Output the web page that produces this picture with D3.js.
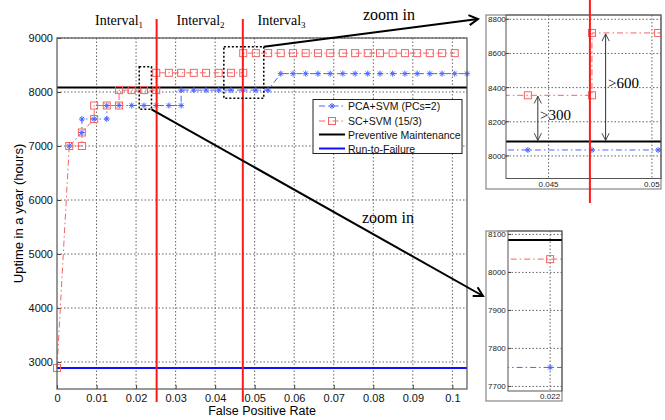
<!DOCTYPE html>
<html lang="en">
<head>
<meta charset="UTF-8">
<title>Uptime vs False Positive Rate</title>
<script src="https://d3js.org/d3.v7.min.js"></script>
<style>
    body { margin: 0; background: #fff; }
    svg { display: block; font-family: Arial, "Liberation Sans", sans-serif; }
    .grid line { stroke: #666; stroke-width: 1; stroke-dasharray: 1.5, 2; }
    .serif { font-family: "Times New Roman", "Liberation Serif", serif; }
</style>
</head>
<body>
<div id="chart"></div>
<script>
// PCA+SVM (PCs=2): false positive rate / uptime pairs (vertical steps repeat the x value)
var pcaFpr = [0.0031, 0.0063, 0.0063, 0.0094, 0.0126, 0.0126, 0.0157, 0.0189, 0.0220, 0.0251,
    0.0283, 0.0314, 0.0314, 0.0346, 0.0377, 0.0409, 0.0440, 0.0471, 0.0503, 0.0534,
    0.0566, 0.0597, 0.0629, 0.0660, 0.0691, 0.0723, 0.0754, 0.0786, 0.0817, 0.0849,
    0.0880, 0.0911, 0.0943, 0.0974, 0.1006, 0.1037];
var pcaUptime = [7000, 7250, 7500, 7500, 7500, 7750, 7750, 7750, 7750, 7750,
    7750, 7750, 8035, 8035, 8035, 8035, 8035, 8035, 8035, 8035,
    8340, 8340, 8340, 8340, 8340, 8340, 8340, 8340, 8340, 8340,
    8340, 8340, 8340, 8340, 8340, 8340];

// SC+SVM (15/3)
var scFpr = [0, 0.0031, 0.0063, 0.0063, 0.0094, 0.0094, 0.0126, 0.0157, 0.0157, 0.0189,
    0.0220, 0.0251, 0.0251, 0.0283, 0.0314, 0.0346, 0.0377, 0.0409, 0.0440, 0.0471,
    0.0471, 0.0503, 0.0534, 0.0566, 0.0597, 0.0629, 0.0660, 0.0691, 0.0723, 0.0754,
    0.0786, 0.0817, 0.0849, 0.0880, 0.0911, 0.0943, 0.0974, 0.1006];
var scUptime = [2890, 7000, 7000, 7250, 7500, 7750, 7750, 7750, 8035, 8035,
    8035, 8035, 8355, 8355, 8355, 8355, 8355, 8355, 8355, 8355,
    8720, 8720, 8720, 8720, 8720, 8720, 8720, 8720, 8720, 8720,
    8720, 8720, 8720, 8720, 8720, 8720, 8720, 8720];

var preventiveUptime = 8085;
var runToFailureUptime = 2890;
var intervalBounds = [0.0252, 0.047];
var intervalSubs = ["1", "2", "3"];
var legendNames = ["PCA+SVM (PCs=2)", "SC+SVM (15/3)", "Preventive Maintenance", "Run-to-Failure"];
var gapLabels = [">300", ">600"];

var xTicks = [0, 0.01, 0.02, 0.03, 0.04, 0.05, 0.06, 0.07, 0.08, 0.09, 0.1];
var yTicks = [3000, 4000, 5000, 6000, 7000, 8000, 9000];
var insetTopXTicks = [0.045, 0.05];
var insetTopYTicks = [8000, 8200, 8400, 8600, 8800];
var insetLowXTicks = [0.022];
var insetLowYTicks = [7700, 7800, 7900, 8000, 8100];

var blueSeries = "#4a66ff", redSeries = "#f46464", dashDot = "6,3,1.5,3";

var pca = pcaFpr.map(function (d, i) { return [d, pcaUptime[i]]; });
var sc = scFpr.map(function (d, i) { return [d, scUptime[i]]; });

var svg = d3.select("#chart").append("svg")
    .attr("width", 665)
    .attr("height", 420);

var defs = svg.append("defs");
defs.append("marker")
    .attr("id", "head")
    .attr("markerUnits", "userSpaceOnUse")
    .attr("viewBox", "0 0 12 12")
    .attr("refX", 10).attr("refY", 6)
    .attr("markerWidth", 12).attr("markerHeight", 12)
    .attr("orient", "auto")
    .append("path")
    .attr("d", "M1,1L10,6L1,11")
    .attr("fill", "none").attr("stroke", "#000").attr("stroke-width", 2);
defs.append("marker")
    .attr("id", "thin")
    .attr("markerUnits", "userSpaceOnUse")
    .attr("viewBox", "0 0 10 10")
    .attr("refX", 9).attr("refY", 5)
    .attr("markerWidth", 9).attr("markerHeight", 9)
    .attr("orient", "auto-start-reverse")
    .append("path")
    .attr("d", "M1,1L9,5L1,9")
    .attr("fill", "none").attr("stroke", "#333").attr("stroke-width", 1);

var asterisk = "M-3,0H3M0,-3V3M-2.1,-2.1L2.1,2.1M-2.1,2.1L2.1,-2.1";

// draw both classifier series, the PM line and markers on a plot group
function drawSeries(g, x, y, xDomain) {
    var line = d3.line().x(function (d) { return x(d[0]); }).y(function (d) { return y(d[1]); });
    g.append("line")
        .attr("x1", x(xDomain[0])).attr("x2", x(xDomain[1]))
        .attr("y1", y(preventiveUptime)).attr("y2", y(preventiveUptime))
        .attr("stroke", "#000").attr("stroke-width", 2);
    g.append("path").datum(pca)
        .attr("d", line).attr("fill", "none")
        .attr("stroke", blueSeries).attr("stroke-width", 1)
        .attr("stroke-dasharray", dashDot);
    g.append("path").datum(sc)
        .attr("d", line).attr("fill", "none")
        .attr("stroke", redSeries).attr("stroke-width", 1)
        .attr("stroke-dasharray", dashDot);
    g.selectAll(".pt-pca").data(pca).enter().append("path")
        .attr("class", "pt-pca")
        .attr("transform", function (d) { return "translate(" + x(d[0]) + "," + y(d[1]) + ")"; })
        .attr("d", asterisk)
        .attr("stroke", blueSeries).attr("stroke-width", 1);
    g.selectAll(".pt-sc").data(sc).enter().append("rect")
        .attr("class", "pt-sc")
        .attr("x", function (d) { return x(d[0]) - 3.5; })
        .attr("y", function (d) { return y(d[1]) - 3.5; })
        .attr("width", 7).attr("height", 7)
        .attr("fill", "none").attr("stroke", redSeries);
}

function drawGrid(g, x, y, xt, yt, x0, x1, y0, y1) {
    var grid = g.append("g").attr("class", "grid");
    grid.selectAll(".gx").data(xt).enter().append("line")
        .attr("x1", x).attr("x2", x).attr("y1", y0).attr("y2", y1);
    grid.selectAll(".gy").data(yt).enter().append("line")
        .attr("x1", x0).attr("x2", x1).attr("y1", y).attr("y2", y);
}

// ---------- main plot ----------
var mL = 57, mR = 467, mT = 38, mB = 389;
var x = d3.scaleLinear().domain([0, 0.1037]).range([mL, mR]);
var y = d3.scaleLinear().domain([2500, 9000]).range([mB, mT]);

var main = svg.append("g");
main.append("rect").attr("x", mL).attr("y", mT).attr("width", mR - mL).attr("height", mB - mT).attr("fill", "#fff");
drawGrid(main, x, y, xTicks.slice(1), yTicks, mL, mR, mT, mB);

// axes with inward ticks
main.append("g").attr("transform", "translate(0," + mB + ")")
    .call(d3.axisBottom(x).tickValues(xTicks).tickSizeInner(-4).tickSizeOuter(0).tickPadding(5)
        .tickFormat(function (d) { return d === 0 ? "0" : String(+d.toFixed(2)); }))
    .call(function (a) { a.select(".domain").remove(); a.selectAll("line").attr("stroke", "#444"); a.selectAll("text").attr("font-size", 11).attr("fill", "#111"); });
main.append("g").attr("transform", "translate(" + mL + ",0)")
    .call(d3.axisLeft(y).tickValues(yTicks).tickSizeInner(-4).tickSizeOuter(0).tickPadding(4)
        .tickFormat(d3.format("d")))
    .call(function (a) { a.select(".domain").remove(); a.selectAll("line").attr("stroke", "#444"); a.selectAll("text").attr("font-size", 11).attr("fill", "#111"); });

// run-to-failure baseline
main.append("line")
    .attr("x1", mL).attr("x2", mR)
    .attr("y1", y(runToFailureUptime)).attr("y2", y(runToFailureUptime))
    .attr("stroke", "#1010ff").attr("stroke-width", 2);

drawSeries(main, x, y, x.domain());

main.append("rect").attr("x", mL).attr("y", mT).attr("width", mR - mL).attr("height", mB - mT)
    .attr("fill", "none").attr("stroke", "#555").attr("stroke-width", 1.2);

// interval borders
main.selectAll(".bound").data(intervalBounds).enter().append("line")
    .attr("x1", x).attr("x2", x)
    .attr("y1", y(9350)).attr("y2", y(2260))
    .attr("stroke", "#ff1a1a").attr("stroke-width", 2);

var intervalLabels = main.selectAll(".ilab").data(intervalSubs).enter().append("text")
    .attr("class", "serif")
    .attr("x", function (d, i) { return x([0.0157, 0.0363, 0.0568][i]); })
    .attr("y", 25)
    .attr("text-anchor", "middle")
    .attr("font-size", 14);
intervalLabels.append("tspan").text("Interval");
intervalLabels.append("tspan").attr("font-size", 9).attr("dy", 3).text(function (d) { return d; });

// axis titles
main.append("text").attr("x", 262).attr("y", 415).attr("text-anchor", "middle")
    .attr("font-size", 12.5).text("False Positive Rate");
main.append("text").attr("transform", "translate(23," + (mT + mB) / 2 + ") rotate(-90)")
    .attr("text-anchor", "middle").attr("font-size", 13).text("Uptime in a year (hours)");

// legend
var lg = main.append("g");
lg.append("rect").attr("x", 313).attr("y", 99.5).attr("width", 149).attr("height", 54)
    .attr("fill", "#fff").attr("stroke", "#222").attr("stroke-width", 1);
var rowsY = [106, 121, 134.5, 148.5];
legendNames.forEach(function (name, i) {
    var yy = rowsY[i];
    var stroke = [blueSeries, redSeries, "#000", "#1010ff"][i];
    lg.append("line").attr("x1", 319).attr("x2", 345).attr("y1", yy).attr("y2", yy)
        .attr("stroke", stroke).attr("stroke-width", i < 2 ? 1 : 2)
        .attr("stroke-dasharray", i < 2 ? dashDot : null);
    if (i === 0) lg.append("path").attr("transform", "translate(332," + yy + ")").attr("d", asterisk).attr("stroke", blueSeries);
    if (i === 1) lg.append("rect").attr("x", 328.5).attr("y", yy - 3.5).attr("width", 7).attr("height", 7).attr("fill", "none").attr("stroke", redSeries);
    lg.append("text").attr("x", 348).attr("y", yy + 4).attr("font-size", 10.5).attr("fill", "#111").text(name);
});

// zoom boxes
var boxes = [[0.0208, 0.0239, 7680, 8469], [0.0422, 0.0523, 7883, 8839]];
main.selectAll(".zbox").data(boxes).enter().append("rect")
    .attr("x", function (d) { return x(d[0]); })
    .attr("y", function (d) { return y(d[3]); })
    .attr("width", function (d) { return x(d[1]) - x(d[0]); })
    .attr("height", function (d) { return y(d[2]) - y(d[3]); })
    .attr("fill", "none").attr("stroke", "#000").attr("stroke-width", 1.5).attr("stroke-dasharray", "2,2");

// arrows to insets
main.append("line").attr("x1", x(0.0523)).attr("y1", y(8839)).attr("x2", 478).attr("y2", 19)
    .attr("stroke", "#000").attr("stroke-width", 2).attr("marker-end", "url(#head)");
main.append("line").attr("x1", x(0.0239)).attr("y1", y(7680)).attr("x2", 483).attr("y2", 296)
    .attr("stroke", "#000").attr("stroke-width", 2).attr("marker-end", "url(#head)");
main.append("text").attr("class", "serif").attr("x", 363).attr("y", 20).attr("font-size", 16).text("zoom in");
main.append("text").attr("class", "serif").attr("x", 362).attr("y", 223).attr("font-size", 16).text("zoom in");

// ---------- inset builder ----------
function drawInset(box, inner, xDom, yDom, xt, yt, xFmt, yLabelX) {
    var g = svg.append("g");
    g.append("rect").attr("x", box[0]).attr("y", box[1]).attr("width", box[2] - box[0]).attr("height", box[3] - box[1])
        .attr("fill", "#fff").attr("stroke", "#888").attr("stroke-width", 1.2);
    var ix = d3.scaleLinear().domain(xDom).range([inner[0], inner[2]]);
    var iy = d3.scaleLinear().domain(yDom).range([inner[3], inner[1]]);
    var id = "clip" + box[1];
    defs.append("clipPath").attr("id", id).append("rect")
        .attr("x", inner[0]).attr("y", inner[1]).attr("width", inner[2] - inner[0]).attr("height", inner[3] - inner[1]);
    drawGrid(g, ix, iy, xt, yt, inner[0], inner[2], inner[1], inner[3]);
    var plot = g.append("g").attr("clip-path", "url(#" + id + ")");
    drawSeries(plot, ix, iy, xDom);
    g.append("rect").attr("x", inner[0]).attr("y", inner[1]).attr("width", inner[2] - inner[0]).attr("height", inner[3] - inner[1])
        .attr("fill", "none").attr("stroke", "#555").attr("stroke-width", 1);
    g.selectAll(".ty").data(yt).enter().append("text")
        .attr("x", yLabelX).attr("y", function (d) { return iy(d) + 3; })
        .attr("font-size", 8).attr("fill", "#222").text(function (d) { return d; });
    g.selectAll(".tx").data(xt).enter().append("text")
        .attr("x", ix).attr("y", inner[3] + 8)
        .attr("text-anchor", "middle").attr("font-size", 8).attr("fill", "#222").text(xFmt);
    // small inward ticks
    g.selectAll(".tky").data(yt).enter().append("line")
        .attr("x1", inner[0]).attr("x2", inner[0] + 3).attr("y1", iy).attr("y2", iy).attr("stroke", "#444");
    return {g: g, x: ix, y: iy};
}

// upper inset (around second interval border)
var insetTop = drawInset([486, 15, 661, 189], [506, 15, 661, 178.5], [0.04294, 0.05044], [7868, 8825],
    insetTopXTicks, insetTopYTicks, function (d) { return d === 0.05 ? "0.05" : "0.045"; }, 488);
insetTop.g.append("line").attr("x1", insetTop.x(intervalBounds[1])).attr("x2", insetTop.x(intervalBounds[1]))
    .attr("y1", 0).attr("y2", 203).attr("stroke", "#ff1a1a").attr("stroke-width", 2);

// gaps between SC+SVM levels and preventive maintenance
var gapTops = [8355, 8720], gapX = [0.04448, 0.04776];
gapLabels.forEach(function (lab, i) {
    insetTop.g.append("line")
        .attr("x1", insetTop.x(gapX[i])).attr("x2", insetTop.x(gapX[i]))
        .attr("y1", insetTop.y(gapTops[i]) + 1).attr("y2", insetTop.y(preventiveUptime) - 1)
        .attr("stroke", "#333").attr("stroke-width", 1)
        .attr("marker-start", "url(#thin)").attr("marker-end", "url(#thin)");
});
insetTop.g.append("text").attr("class", "serif").attr("x", 540).attr("y", 120).attr("font-size", 15).text(gapLabels[0]);
insetTop.g.append("text").attr("class", "serif").attr("x", 608).attr("y", 87.5).attr("font-size", 15).text(gapLabels[1]);

// lower inset (around 0.022)
drawInset([486, 231, 562, 401], [508, 231, 562, 391], [0.02122, 0.02222], [7688, 8109],
    insetLowXTicks, insetLowYTicks, function (d) { return "0.022"; }, 488);
</script>
</body>
</html>
